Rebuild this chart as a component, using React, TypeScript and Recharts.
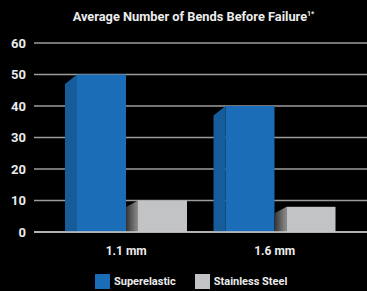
import React from 'react';
import { BarChart, Bar, XAxis, YAxis, CartesianGrid } from 'recharts';

const categories = ['1.1 mm', '1.6 mm'];
const superelastic = [50, 40];
const stainless = [10, 8];
const yTicks = [0, 10, 20, 30, 40, 50, 60];
const seriesNames = ['Superelastic', 'Stainless Steel'];

const data = categories.map((c, i) => ({ name: c, superelastic: superelastic[i], stainless: stainless[i] }));

const SIDE = 12;

const BlueShape = (props: any) => {
  const { x, y, width, height } = props;
  const fx = x + SIDE;
  const depth = 9.5;
  return (
    <g>
      <polygon points={`${x},${y + depth} ${fx},${y} ${fx},${y + height} ${x},${y + height}`} fill="#165c9a" />
      <rect x={fx} y={y} width={width - SIDE} height={height} fill="#1a6db6" />
    </g>
  );
};

const GrayShape = (props: any) => {
  const { x, y, width, height, index } = props;
  const fx = x + SIDE;
  const depth = 6.5;
  const gid = `gside${index}`;
  return (
    <g>
      <defs>
        <linearGradient id={gid} x1="0" y1="0" x2="1" y2="0">
          <stop offset="0%" stopColor="#333333" />
          <stop offset="100%" stopColor="#8e8e8e" />
        </linearGradient>
      </defs>
      <polygon points={`${x},${y + depth} ${fx},${y} ${fx},${y + height} ${x},${y + height}`} fill={`url(#${gid})`} />
      <rect x={fx} y={y} width={width - SIDE} height={height} fill="#c2c3c5" />
    </g>
  );
};

export default function App() {
  const font = 'Roboto, "Noto Sans", sans-serif';
  return (
    <div style={{ position: 'absolute', left: 0, top: 0, width: 367, height: 291, background: '#000', fontFamily: font, overflow: 'hidden' }}>
      <div style={{ position: 'absolute', top: 8, left: 0, width: 367, textAlign: 'center', paddingLeft: 20, boxSizing: 'border-box', color: '#ececec', fontWeight: 700, fontSize: 12.8, lineHeight: '17px' }}>
        Average Number of Bends Before Failure<sup style={{ fontSize: 7, verticalAlign: 'top', position: 'relative', top: -2 }}>1*</sup>
      </div>
      <BarChart width={367} height={291} data={data} margin={{ top: 43, right: 0, left: 0, bottom: 29 }} barGap={0} barSize={61}>
        <CartesianGrid vertical={false} stroke="#9c9c9c" strokeWidth={1.5} />
        <XAxis
          dataKey="name"
          axisLine={{ stroke: '#c8c8c8', strokeWidth: 1.5 }}
          tickLine={false}
          height={30}
          padding={{ left: 18, right: 18 }}
          tick={{ fill: '#ececec', fontSize: 12, fontWeight: 700, fontFamily: font }}
          tickMargin={8}
        />
        <YAxis
          domain={[0, 60]}
          ticks={yTicks}
          width={34}
          axisLine={false}
          tickLine={false}
          tick={{ fill: '#ececec', fontSize: 13, fontWeight: 700, fontFamily: font }}
        />
        <Bar dataKey="superelastic" name={seriesNames[0]} shape={BlueShape} isAnimationActive={false} />
        <Bar dataKey="stainless" name={seriesNames[1]} shape={GrayShape} isAnimationActive={false} />
      </BarChart>
      <div style={{ position: 'absolute', top: 274, left: 95, display: 'flex', alignItems: 'center', color: '#ececec', fontWeight: 700, fontSize: 11 }}>
        <span style={{ width: 15, height: 15, background: '#1a6db6', display: 'inline-block', marginRight: 4 }} />
        <span style={{ marginRight: 19 }}>{seriesNames[0]}</span>
        <span style={{ width: 15, height: 15, background: '#c2c3c5', display: 'inline-block', marginRight: 4 }} />
        <span>{seriesNames[1]}</span>
      </div>
    </div>
  );
}
